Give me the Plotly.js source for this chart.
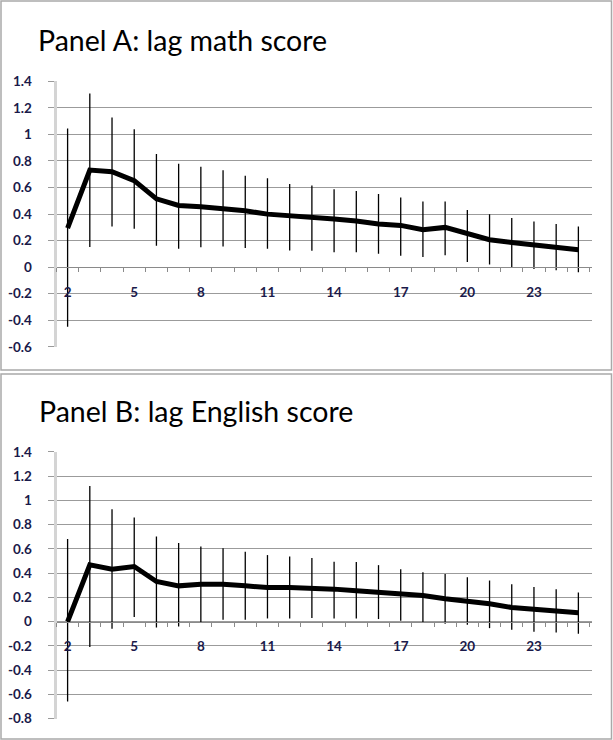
<!DOCTYPE html>
<html><head><meta charset="utf-8">
<script src="https://cdn.plot.ly/plotly-3.0.1.min.js"></script>
<style>html,body{margin:0;padding:0;background:#fff;}</style>
</head><body><div id="chart" style="width:613px;height:740px;"></div>
<script>
// ---------- data ----------
const lags = [2,3,4,5,6,7,8,9,10,11,12,13,14,15,16,17,18,19,20,21,22,23,24,25];

const mathMean  = [0.294,0.731,0.719,0.651,0.514,0.464,0.454,0.439,0.424,0.399,0.389,0.381,0.362,0.347,0.324,0.314,0.281,0.299,0.249,0.206,0.186,0.169,0.144,0.131];
const mathUpper = [1.044,1.307,1.127,1.039,0.851,0.779,0.756,0.729,0.689,0.669,0.626,0.614,0.587,0.574,0.551,0.524,0.494,0.494,0.431,0.399,0.369,0.344,0.324,0.306];
const mathLower = [-0.450,0.151,0.306,0.289,0.161,0.139,0.149,0.156,0.144,0.139,0.126,0.124,0.111,0.111,0.101,0.086,0.076,0.089,0.039,0.019,0.001,-0.014,-0.024,-0.039];

const engMean  = [0.000,0.469,0.433,0.455,0.331,0.295,0.309,0.309,0.295,0.281,0.281,0.276,0.268,0.254,0.240,0.229,0.215,0.188,0.172,0.147,0.116,0.100,0.089,0.073];
const engUpper = [0.681,1.120,0.928,0.859,0.702,0.648,0.620,0.606,0.576,0.549,0.537,0.524,0.493,0.491,0.466,0.433,0.408,0.392,0.367,0.339,0.309,0.285,0.268,0.240];
const engLower = [-0.659,-0.210,-0.059,0.037,-0.049,-0.040,-0.007,0.015,0.015,0.026,0.026,0.029,0.026,0.026,0.021,0.007,-0.007,-0.018,-0.026,-0.054,-0.068,-0.084,-0.090,-0.100];

const xTickVals = [2,5,8,11,14,17,20,23];
const xTickText = ['2','5','8','11','14','17','20','23'];

const yTickValsA = [-0.6,-0.4,-0.2,0,0.2,0.4,0.6,0.8,1,1.2,1.4];
const yTickTextA = ['-0.6','-0.4','-0.2','0','0.2','0.4','0.6','0.8','1','1.2','1.4'];
const yTickValsB = [-0.8,-0.6,-0.4,-0.2,0,0.2,0.4,0.6,0.8,1,1.2,1.4];
const yTickTextB = ['-0.8','-0.6','-0.4','-0.2','0','0.2','0.4','0.6','0.8','1','1.2','1.4'];

const panelTitles = ['Panel A: lag math score', 'Panel B: lag English score'];

// ---------- layout helpers (pixel geometry) ----------
const W = 613, H = 740;
const FONT = 'Lato, "Open Sans", sans-serif';
const tickFont = {family: FONT, size: 13.5, color: '#1a1a4a', weight: 'bold'};
const plotL = 56.5, plotR = 591.7;
const A = {top: 80.7, bottom: 347.3, ymin: -0.6, ymax: 1.4};
const B = {top: 451.5, bottom: 719, ymin: -0.8, ymax: 1.4};
function zeroPix(p){ return p.top + (p.ymax - 0)/(p.ymax - p.ymin)*(p.bottom - p.top); }
const py = v => 1 - v / H;
const px = v => v / W;

function errs(mean, up, lo){
  return {
    type: 'data', symmetric: false,
    array: up.map((u,i) => u - mean[i]),
    arrayminus: lo.map((l,i) => mean[i] - l),
    color: '#000', thickness: 1.3, width: 0
  };
}

const traces = [
  {x: lags, y: mathMean, type: 'scatter', mode: 'lines', xaxis: 'x', yaxis: 'y',
   line: {color: '#000', width: 5}, error_y: errs(mathMean, mathUpper, mathLower), hoverinfo: 'skip'},
  {x: lags, y: engMean, type: 'scatter', mode: 'lines', xaxis: 'x2', yaxis: 'y2',
   line: {color: '#000', width: 5}, error_y: errs(engMean, engUpper, engLower), hoverinfo: 'skip'}
];

function xAxisFor(p){
  return {
    domain: [px(plotL), px(plotR)], range: [1.5, 25.6], anchor: 'free',
    position: py(zeroPix(p)),
    tickmode: 'array', tickvals: xTickVals, ticktext: xTickText,
    ticks: 'outside', ticklen: 12, tickcolor: 'rgba(0,0,0,0)',
    minor: {ticks: 'outside', ticklen: 4, tickcolor: '#8a8a8a', tick0: 0.5, dtick: 1, showgrid: false},
    showline: true, linecolor: '#8a8a8a', linewidth: 1,
    showgrid: false, zeroline: false, tickfont: tickFont, fixedrange: true
  };
}
function yAxisFor(p, vals, text, xname){
  return {
    domain: [py(p.bottom), py(p.top)], range: [p.ymin - 0.004, p.ymax + 0.004], anchor: xname,
    tickmode: 'array', tickvals: vals, ticktext: text,
    ticks: 'outside', ticklen: 6, tickcolor: '#9a9a9a', ticklabelstandoff: 13,
    showgrid: true, gridcolor: '#9b9b9b', gridwidth: 1,
    showline: true, linecolor: '#d4d4d4', linewidth: 3,
    zeroline: false, tickfont: tickFont, fixedrange: true
  };
}

const layout = {
  width: W, height: H, margin: {l: 0, r: 0, t: 0, b: 0},
  paper_bgcolor: '#fff', plot_bgcolor: 'rgba(0,0,0,0)', showlegend: false,
  xaxis: xAxisFor(A), yaxis: yAxisFor(A, yTickValsA, yTickTextA, 'x'),
  xaxis2: xAxisFor(B), yaxis2: yAxisFor(B, yTickValsB, yTickTextB, 'x2'),
  shapes: [
    {type: 'rect', xref: 'paper', yref: 'paper', x0: px(1), x1: px(611.5), y0: py(370), y1: py(1),
     line: {color: '#a9a9a9', width: 1.5}, fillcolor: 'rgba(0,0,0,0)'},
    {type: 'rect', xref: 'paper', yref: 'paper', x0: px(1), x1: px(611.5), y0: py(739), y1: py(374),
     line: {color: '#a9a9a9', width: 1.5}, fillcolor: 'rgba(0,0,0,0)'}
  ],
  annotations: [
    {text: panelTitles[0], xref: 'paper', yref: 'paper', x: px(35.5), y: py(40), xanchor: 'left', yanchor: 'middle',
     showarrow: false, font: {family: FONT, size: 28.5, color: '#000'}},
    {text: panelTitles[1], xref: 'paper', yref: 'paper', x: px(37), y: py(411), xanchor: 'left', yanchor: 'middle',
     showarrow: false, font: {family: FONT, size: 28.5, color: '#000'}}
  ]
};

Plotly.newPlot('chart', traces, layout, {displayModeBar: false, staticPlot: true});
</script>
</body></html>
